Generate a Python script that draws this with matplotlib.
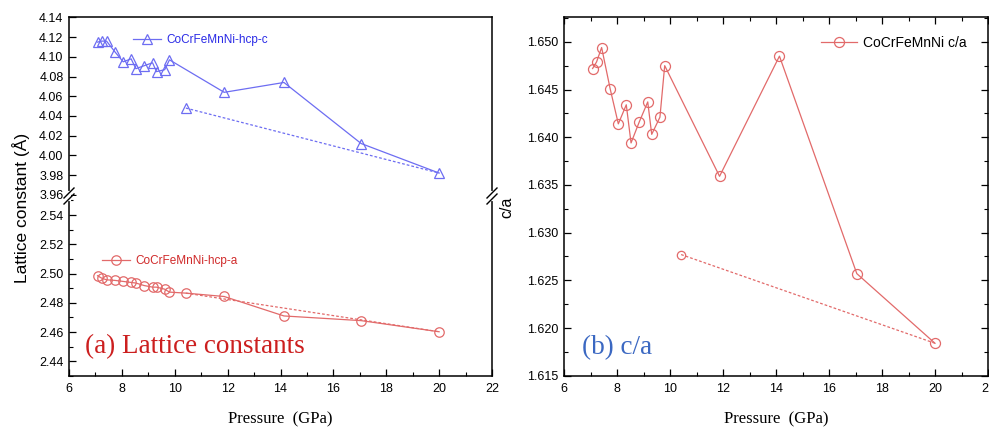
import matplotlib
matplotlib.use("Agg")
import matplotlib.pyplot as plt
from matplotlib.lines import Line2D
from matplotlib.ticker import MultipleLocator

# ---------------- data ----------------
p_low = [7.08, 7.23, 7.42, 7.74, 8.05, 8.35, 8.53, 8.84, 9.16, 9.31, 9.62, 9.80]
p_high = [11.87, 14.13, 17.05, 20.0]
p_mid = [10.42]
p_dot = [10.42, 20.0]

c_vals = [4.115, 4.116, 4.116, 4.105, 4.095, 4.098, 4.088, 4.091, 4.094, 4.085,
          4.087, 4.097, 4.064, 4.074, 4.012, 3.982]
c_dot = [4.048, 3.982]

a_vals = [2.4985, 2.4969, 2.4957, 2.4953, 2.4946, 2.4939, 2.4935, 2.4918, 2.4907,
          2.4907, 2.4893, 2.4873, 2.4866, 2.4843, 2.4710, 2.4678, 2.4602]
a_dot = [2.4866, 2.4602]

ca_vals = [1.6472, 1.6479, 1.6494, 1.6451, 1.6414, 1.6434, 1.6394, 1.6416, 1.6437,
           1.6403, 1.6421, 1.6475, 1.6359, 1.6485, 1.6257, 1.6184]
ca_dot = [1.6277, 1.6184]

label_c = "CoCrFeMnNi-hcp-c"
label_a = "CoCrFeMnNi-hcp-a"
label_ca = "CoCrFeMnNi c/a"

# ---------------- style ----------------
W, H = 989, 432
plt.rcParams['font.family'] = ['Liberation Sans', 'DejaVu Sans']
fig = plt.figure(figsize=(W / 100, H / 100), dpi=100)

blue = '#6d6df2'
blue_txt = '#2b2be6'
red = '#e26a6a'
red_txt = '#d02a2a'
dot_ls = (0, (2.2, 1.6))

def fx(px):
    return px / W

def fy(py):
    return 1 - py / H

L0, L1 = 69, 492
R0, R1 = 564, 988
TOP, BRK, BOT = 17, 196, 376

ax_top = fig.add_axes([fx(L0), fy(BRK), fx(L1) - fx(L0), fy(TOP) - fy(BRK)])
ax_bot = fig.add_axes([fx(L0), fy(BOT), fx(L1) - fx(L0), fy(BRK) - fy(BOT)], sharex=ax_top)
ax_r = fig.add_axes([fx(R0), fy(BOT), fx(R1) - fx(R0), fy(TOP) - fy(BOT)])

tick_fs = 9

# ---- left top: c ----
ax_top.plot(p_low + p_high, c_vals, color=blue, lw=0.9, marker='^', ms=7.8,
            mfc='none', mec=blue, mew=0.9, label=label_c)
ax_top.plot(p_dot, c_dot, color=blue, lw=0.9, ls=dot_ls)
ax_top.plot(p_dot[:1], c_dot[:1], ls='none', marker='^', ms=7.8, mfc='none',
            mec=blue, mew=0.9)
ax_top.set_ylim(3.9587, 4.1405)
ax_top.yaxis.set_major_locator(MultipleLocator(0.02))
ax_top.yaxis.set_major_formatter(matplotlib.ticker.FormatStrFormatter('%.2f'))
ax_top.spines['bottom'].set_visible(False)
ax_top.tick_params(axis='x', which='both', bottom=False, top=False, labelbottom=False)
ax_top.tick_params(axis='y', which='major', direction='in', length=5, width=0.9,
                   labelsize=tick_fs, pad=4, right=False)
leg = ax_top.legend(loc='center left', bbox_to_anchor=(0.151, 0.872), frameon=False,
                    borderpad=0, borderaxespad=0, handlelength=2.4, handletextpad=0.45,
                    fontsize=8.5)
for t in leg.get_texts():
    t.set_color(blue_txt)

# ---- left bottom: a ----
ax_bot.plot(p_low + p_mid + p_high, a_vals, color=red, lw=0.9, marker='o', ms=6.8,
            mfc='none', mec=red, mew=0.9, label=label_a)
ax_bot.plot(p_dot, a_dot, color=red, lw=0.9, ls=dot_ls)
ax_bot.set_ylim(2.42995, 2.553)
ax_bot.set_xlim(6, 22)
ax_bot.yaxis.set_major_locator(MultipleLocator(0.02))
ax_bot.yaxis.set_minor_locator(MultipleLocator(0.01))
ax_bot.yaxis.set_major_formatter(matplotlib.ticker.FormatStrFormatter('%.2f'))
ax_bot.xaxis.set_major_locator(MultipleLocator(2))
ax_bot.xaxis.set_minor_locator(MultipleLocator(1))
ax_bot.spines['top'].set_visible(False)
ax_bot.tick_params(which='major', direction='in', length=5, width=0.9,
                   labelsize=tick_fs, top=False, right=False)
ax_bot.tick_params(which='minor', direction='in', length=3, width=0.8,
                   top=False, right=False)
ax_bot.tick_params(axis='y', pad=4)
ax_bot.tick_params(axis='x', pad=5)
leg = ax_bot.legend(loc='center left', bbox_to_anchor=(0.078, 0.639), frameon=False,
                    borderpad=0, borderaxespad=0, handlelength=2.4, handletextpad=0.45,
                    fontsize=8.5)
for t in leg.get_texts():
    t.set_color(red_txt)
ax_bot.text(0.038, 0.129, "(a) Lattice constants", transform=ax_bot.transAxes,
            family=['Liberation Serif', 'DejaVu Serif'], fontsize=19.5,
            color='#cc1f1f', ha='left', va='baseline')
ax_bot.set_xlabel("Pressure  (GPa)", family=['Liberation Serif', 'DejaVu Serif'],
                  fontsize=12, labelpad=12)

# ---- right: c/a ----
ax_r.plot(p_low + p_high, ca_vals, color=red, lw=0.9, marker='o', ms=7.2,
          mfc='none', mec=red, mew=0.9, label=label_ca)
ax_r.plot(p_dot, ca_dot, color=red, lw=0.9, ls=dot_ls)
ax_r.plot(p_dot[:1], ca_dot[:1], ls='none', marker='o', ms=6, mfc='none',
          mec=red, mew=0.9)
ax_r.set_xlim(6, 22)
ax_r.set_ylim(1.61497, 1.6526)
ax_r.xaxis.set_major_locator(MultipleLocator(2))
ax_r.xaxis.set_minor_locator(MultipleLocator(1))
ax_r.yaxis.set_major_locator(MultipleLocator(0.005))
ax_r.yaxis.set_minor_locator(MultipleLocator(0.0025))
ax_r.yaxis.set_major_formatter(matplotlib.ticker.FormatStrFormatter('%.3f'))
ax_r.tick_params(which='major', direction='in', length=5, width=0.9,
                 labelsize=tick_fs, top=True, right=True)
ax_r.tick_params(which='minor', direction='in', length=3, width=0.8,
                 top=True, right=True)
ax_r.tick_params(axis='y', pad=4)
ax_r.tick_params(axis='x', pad=5)
leg = ax_r.legend(loc='center left', bbox_to_anchor=(0.606, 0.928), frameon=False,
                  borderpad=0, borderaxespad=0, handlelength=2.6, handletextpad=0.45,
                  fontsize=10)
ax_r.text(0.042, 0.061, "(b) c/a", transform=ax_r.transAxes,
          family=['Liberation Serif', 'DejaVu Serif'], fontsize=19.5,
          color='#3b68c2', ha='left', va='baseline')
ax_r.set_xlabel("Pressure  (GPa)", family=['Liberation Serif', 'DejaVu Serif'],
                fontsize=12, labelpad=12)
ax_r.set_ylabel("c/a", fontsize=11.5)
ax_r.yaxis.set_label_coords(-0.117, 0.47)

for ax in (ax_top, ax_bot, ax_r):
    for s in ax.spines.values():
        s.set_linewidth(1.1)

# y label for the broken axis
fig.text(fx(21), fy(208), "Lattice constant (Å)", rotation=90, ha='center',
         va='center', fontsize=12.5)

# break marks "//" on the left panel spines
for xc in (L0, L1):
    fig.add_artist(Line2D([fx(xc), fx(xc)], [fy(BRK - 3), fy(BRK + 3)],
                          color='white', lw=3, transform=fig.transFigure))
    for dy in (-3, 3):
        fig.add_artist(Line2D([fx(xc - 5), fx(xc + 5)],
                              [fy(BRK + dy + 5), fy(BRK + dy - 5)],
                              color='black', lw=1.0, transform=fig.transFigure))

fig.savefig("out.png", dpi=100)
